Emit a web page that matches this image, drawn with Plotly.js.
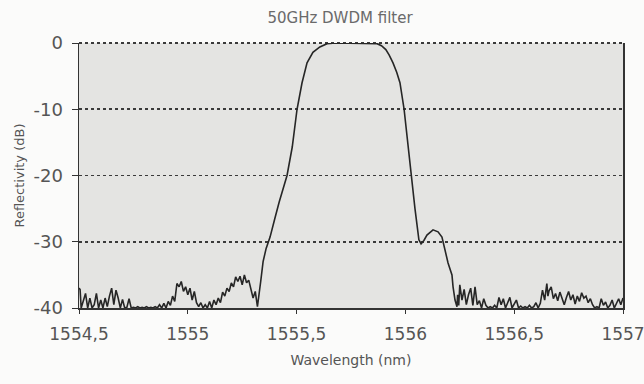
<!DOCTYPE html>
<html>
<head>
<meta charset="utf-8">
<script src="https://cdn.plot.ly/plotly-3.0.1.min.js"></script>
<style>html,body{margin:0;padding:0;background:#fbfbfa;}#chart{width:644px;height:384px;}</style>
</head>
<body>
<div id="chart"></div>
<script>
// Left noise floor (nm, dB)
const noiseLeftWl = [1554.50,1554.505,1554.51,1554.52,1554.53,1554.54,1554.55,1554.56,1554.57,1554.58,1554.59,
  1554.60,1554.61,1554.62,1554.63,1554.64,1554.65,1554.66,1554.67,1554.68,1554.69,
  1554.70,1554.71,1554.72,1554.73,1554.74,1554.75,1554.76,1554.77,1554.78,1554.79,
  1554.80,1554.81,1554.82,1554.83,1554.84,1554.85,1554.86,1554.87,1554.88,1554.89,
  1554.90,1554.91,1554.92,1554.93,1554.94,1554.95,1554.96,1554.97,1554.98,1554.99,
  1555.00,1555.01,1555.02,1555.03,1555.04,1555.05,1555.06,1555.07,1555.08,1555.09,
  1555.10,1555.11,1555.12,1555.13,1555.14,1555.15,1555.16,1555.17,1555.18,1555.19,
  1555.20,1555.21,1555.22,1555.23,1555.24,1555.25,1555.26,1555.27,1555.28,1555.29,
  1555.30,1555.31,1555.32,1555.335,1555.346,1555.36];
const noiseLeftDb = [-37.0,-37.2,-40.0,-39.0,-37.8,-40.0,-38.5,-40.0,-39.5,-37.8,-40.0,
  -38.8,-40.0,-38.5,-39.8,-38.2,-37.0,-39.5,-37.3,-38.5,-40.0,
  -38.7,-40.0,-39.9,-38.6,-40.0,-39.9,-40.0,-39.8,-40.0,-39.9,
  -40.0,-39.8,-40.0,-39.9,-40.0,-39.8,-40.0,-39.5,-40.0,-39.3,
  -40.0,-39.0,-39.6,-38.2,-39.0,-36.3,-36.8,-36.0,-37.5,-36.8,
  -38.0,-37.0,-38.8,-37.5,-39.2,-39.8,-39.2,-40.0,-39.5,-40.0,
  -39.0,-40.0,-38.8,-39.5,-38.5,-39.2,-37.6,-38.2,-37.0,-37.5,
  -36.2,-36.8,-35.3,-36.0,-35.2,-36.5,-35.0,-36.2,-35.8,-37.0,
  -38.5,-37.5,-39.8,-36.0,-33.0,-31.0];
// Filter passband
const bandWl = [1555.378,1555.40,1555.42,1555.456,1555.48,1555.502,1555.525,1555.548,1555.575,1555.607,
  1555.64,1555.68,1555.72,1555.76,1555.80,1555.84,1555.87,1555.89,1555.91,1555.925,
  1555.943,1555.96,1555.975,1555.994,1556.012,1556.026,1556.044,1556.062,1556.072,1556.085,
  1556.099,1556.127,1556.150,1556.168,1556.182,1556.196,1556.214,1556.219,1556.228,1556.237];
const bandDb = [-29.3,-26.5,-24.0,-20.0,-15.7,-10.0,-6.0,-3.0,-1.4,-0.6,
  -0.1,0,0,0,0,0,-0.1,-0.4,-1.0,-1.8,
  -3.0,-4.4,-6.0,-10.0,-15.7,-20.0,-25.0,-29.7,-30.3,-29.8,
  -29.0,-28.2,-28.5,-29.3,-31.2,-33.2,-35.0,-36.8,-38.8,-39.8];
// Right noise floor
const noiseRightWl = [1556.24,1556.245,1556.25,1556.26,1556.27,1556.28,1556.29,1556.30,1556.31,1556.32,1556.33,
  1556.34,1556.35,1556.36,1556.37,1556.38,1556.39,1556.40,1556.41,1556.42,1556.43,
  1556.44,1556.45,1556.46,1556.47,1556.48,1556.49,1556.50,1556.51,1556.52,1556.53,
  1556.54,1556.55,1556.56,1556.57,1556.58,1556.59,1556.60,1556.61,1556.62,1556.63,
  1556.64,1556.645,1556.65,1556.655,1556.66,1556.67,1556.68,1556.69,1556.70,1556.71,1556.72,1556.73,
  1556.74,1556.75,1556.76,1556.77,1556.78,1556.79,1556.80,1556.81,1556.82,1556.83,
  1556.84,1556.85,1556.86,1556.87,1556.88,1556.89,1556.90,1556.91,1556.92,1556.93,
  1556.94,1556.95,1556.96,1556.97,1556.98,1556.99,1557.00];
const noiseRightDb = [-38.0,-39.6,-36.5,-38.8,-37.2,-39.5,-38.0,-37.0,-39.6,-36.8,-39.5,
  -38.9,-40.0,-38.6,-39.6,-40.0,-39.8,-40.0,-39.6,-40.0,-38.4,
  -39.5,-38.6,-40.0,-39.2,-38.4,-40.0,-39.5,-38.8,-40.0,-39.7,
  -40.0,-39.8,-40.0,-39.6,-40.0,-39.8,-39.2,-40.0,-39.3,-37.3,
  -38.8,-37.0,-36.3,-38.2,-37.4,-36.8,-38.6,-37.8,-38.9,-37.6,-38.5,-39.5,
  -38.4,-37.5,-38.8,-38.0,-39.4,-38.2,-39.0,-37.7,-38.5,-38.2,
  -39.2,-38.6,-39.5,-40.0,-39.8,-40.0,-38.6,-39.6,-39.1,-40.0,
  -39.6,-38.8,-40.0,-39.4,-38.6,-39.5,-38.5];

const xTickVals = [1554.5,1555,1555.5,1556,1556.5,1557];
const xTickText = ['1554,5','1555','1555,5','1556','1556,5','1557'];
const yTickVals = [0,-10,-20,-30,-40];
const yTickText = ['0','-10','-20','-30','-40'];

const wl = noiseLeftWl.concat(bandWl, noiseRightWl);
const db = noiseLeftDb.concat(bandDb, noiseRightDb);

const FONT = 'DejaVu Sans, Verdana, sans-serif';

const trace = {x: wl, y: db, type: 'scatter', mode: 'lines',
  line: {color: '#262626', width: 1.6}, hoverinfo: 'skip'};

const layout = {
  width: 644, height: 384,
  margin: {l: 79, r: 21, t: 43, b: 76},
  paper_bgcolor: '#fbfbfa', plot_bgcolor: '#e4e4e2',
  showlegend: false,
  title: {text: '50GHz DWDM filter', x: 0.528, xanchor: 'center', y: 0.955, yanchor: 'middle',
    font: {family: FONT, size: 15, color: '#6a6a6a'}},
  xaxis: {range: [1554.5, 1557], tickvals: xTickVals, ticktext: xTickText,
    showgrid: false, zeroline: false, showline: true, linecolor: '#333', linewidth: 1.5,
    ticks: 'outside', ticklen: 4, tickcolor: '#333', ticklabelstandoff: 6,
    ticklabeloverflow: 'allow',
    tickfont: {family: FONT, size: 17, color: '#555'},
    title: {text: 'Wavelength (nm)', standoff: 12,
      font: {family: FONT, size: 14, color: '#555'}}},
  yaxis: {range: [-40, 0], tickvals: yTickVals, ticktext: yTickText,
    showgrid: true, gridcolor: '#3a3a3a', griddash: 'dot', gridwidth: 1.6,
    zeroline: false, showline: true, mirror: true, linecolor: '#333', linewidth: 1.5,
    ticks: 'outside', ticklen: 6, tickcolor: '#333', ticklabelstandoff: 5,
    tickfont: {family: FONT, size: 18, color: '#555'},
    title: {text: 'Reflectivity (dB)', standoff: 6,
      font: {family: FONT, size: 13, color: '#555'}}},
  shapes: [{type: 'line', xref: 'paper', yref: 'paper', x0: 0, x1: 1, y0: 1, y1: 1,
    line: {color: '#3a3a3a', width: 1.8, dash: 'dot'}, layer: 'below'}]
};

Plotly.newPlot('chart', [trace], layout, {staticPlot: true, displayModeBar: false});
</script>
</body>
</html>
